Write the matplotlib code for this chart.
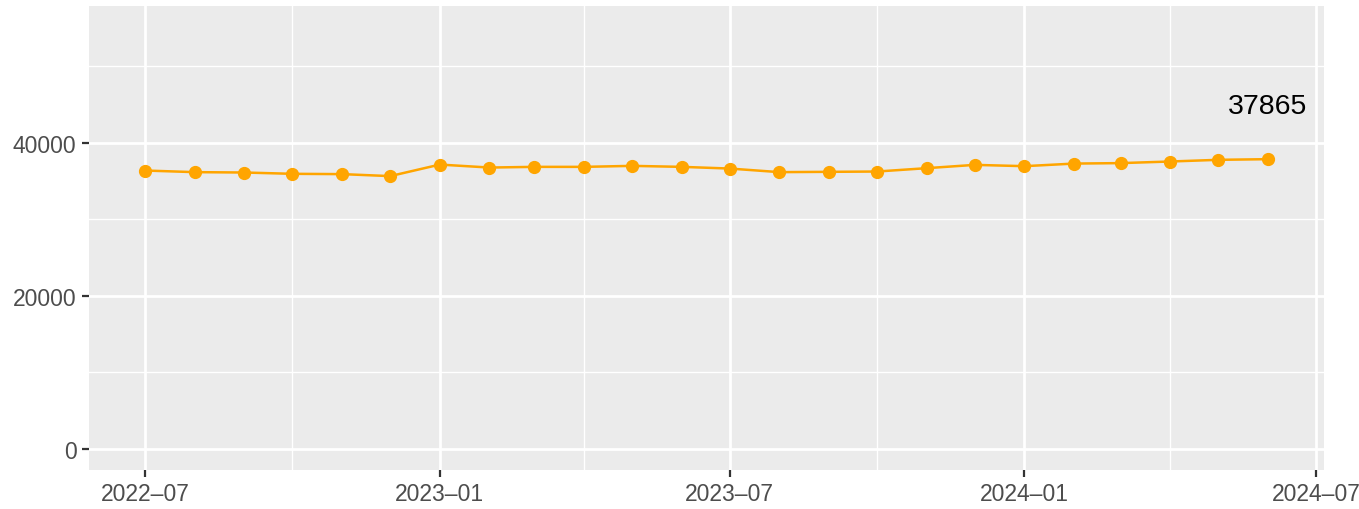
import matplotlib
matplotlib.use("Agg")
import matplotlib.pyplot as plt
import matplotlib.dates as mdates
import numpy as np
import pandas as pd

plt.rcParams['font.family'] = ['Liberation Sans', 'DejaVu Sans']

# monthly values
months = pd.date_range("2022-07-01", "2024-06-01", freq="MS")
values = [36380, 36170, 36120, 35950, 35910, 35650, 37160, 36770, 36860, 36860,
          36990, 36860, 36640, 36170, 36210, 36250, 36690, 37120, 36950, 37290,
          37350, 37560, 37780, 37865]
last_label = "37865"

major_ticks = pd.to_datetime(["2022-07-01", "2023-01-01", "2023-07-01", "2024-01-01", "2024-07-01"])
minor_ticks = pd.to_datetime(["2022-10-01", "2023-04-01", "2023-10-01", "2024-04-01"])
tick_labels = ["2022–07", "2023–01", "2023–07", "2024–01", "2024–07"]

fig = plt.figure(figsize=(13.59, 5.10), dpi=100)
ax = fig.add_axes([89 / 1359, 1 - 470.7 / 510, (1324 - 89) / 1359, (470.7 - 7) / 510])
ax.set_facecolor("#EBEBEB")

# limits like ggplot's 5% expansion
span = months[-1] - months[0]
ax.set_xlim(months[0] - span * 0.05, months[-1] + span * 0.05)
ax.set_ylim(-2750, 57900)

ax.set_xticks(major_ticks)
ax.set_xticklabels(tick_labels)
ax.set_xticks(minor_ticks, minor=True)
ax.set_yticks([0, 20000, 40000])
ax.set_yticks([10000, 30000, 50000], minor=True)

ax.grid(which="major", color="white", linewidth=2.0)
ax.grid(which="minor", color="white", linewidth=1.0)
ax.set_axisbelow(True)
for s in ax.spines.values():
    s.set_visible(False)

ax.tick_params(which="major", length=5, width=1.6, color="#333333",
               labelsize=16.5, labelcolor="#4D4D4D", pad=4)
ax.tick_params(which="minor", length=0)

ax.plot(months, values, color="#FFA500", linewidth=1.8, marker="o",
        markersize=8.5, zorder=3)
ax.text(months[-1], values[-1] + 6900, last_label, ha="center", va="center",
        fontsize=20.5, color="black")

fig.savefig("out.png", dpi=100)
